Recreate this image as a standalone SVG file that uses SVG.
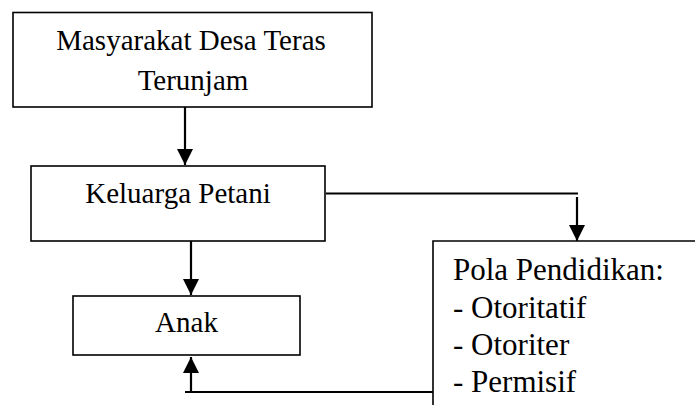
<svg xmlns="http://www.w3.org/2000/svg" width="695" height="405" viewBox="0 0 695 405">
<style>
.box{fill:#fff;stroke:#000;stroke-width:1.6}
.t{font-family:'Liberation Serif', 'DejaVu Serif', serif;font-size:29px;fill:#000}
.tp{font-family:'Liberation Serif', 'DejaVu Serif', serif;font-size:31px;fill:#000}
.c{fill:none;stroke:#000;stroke-width:2.2}
</style>
<defs>
<marker id="ah" markerUnits="userSpaceOnUse" markerWidth="18" markerHeight="18" viewBox="0 0 18 18" refX="16" refY="9" orient="auto">
<polygon points="0,1 16,9 0,17" fill="#000"/>
</marker>
</defs>
<rect width="695" height="405" fill="#fff"/>
<g id="connectors">
<path class="c" d="M185,107 V165" marker-end="url(#ah)"/>
<path class="c" d="M191,241 V295" marker-end="url(#ah)"/>
<path class="c" d="M326,193.5 H578"/>
<path class="c" d="M577,197 V241" marker-end="url(#ah)"/>
<path class="c" d="M185,392 H433"/>
<path class="c" d="M191,392 V357" marker-end="url(#ah)"/>
</g>
<g id="masyarakat">
<rect class="box" x="13" y="12.5" width="359" height="94.5"/>
<text class="t" x="191" y="50" text-anchor="middle">Masyarakat Desa Teras</text>
<text class="t" x="193" y="90" text-anchor="middle">Terunjam</text>
</g>
<g id="keluarga">
<rect class="box" x="31" y="166" width="294" height="75"/>
<text class="t" x="178" y="203" text-anchor="middle">Keluarga Petani</text>
</g>
<g id="anak">
<rect class="box" x="73" y="296" width="227" height="59"/>
<text class="t" x="186.5" y="332" text-anchor="middle">Anak</text>
</g>
<g id="pola">
<path class="box" d="M433,406 V241 H696"/>
<text class="tp" x="453" y="280">Pola Pendidikan:</text>
<text class="tp" x="453" y="317.5">- Otoritatif</text>
<text class="tp" x="453" y="355">- Otoriter</text>
<text class="tp" x="453" y="392">- Permisif</text>
</g>
</svg>
